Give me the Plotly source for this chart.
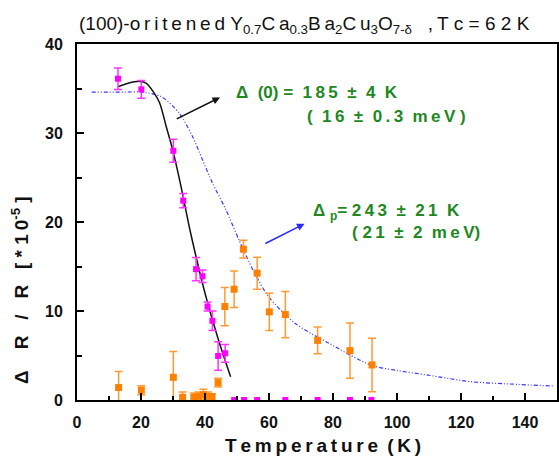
import plotly.graph_objects as go

# ---- data ----
mag_T = [12.8, 20.1, 30.1, 33.2, 37.2, 39.2, 40.8, 42.3, 44.1, 46.3]
mag_V = [36.1, 34.9, 28.0, 22.4, 14.7, 13.9, 10.5, 8.9, 4.95, 5.25]
mag_E = [1.2, 1.0, 1.3, 0.8, 1.3, 0.7, 0.5, 1.1, 1.6, 1.0]

mag0_T = [49.1, 52.2, 56.3, 65.1, 75.2, 85.3, 92.0]
mag0_V = [0, 0, 0, 0, 0, 0, 0]

or_T = [13.0, 20.1, 30.1, 33.0, 36.5, 38.0, 39.5, 41.0, 42.2, 44.1, 46.2, 49.1,
        52.0, 56.3, 60.1, 65.1, 75.2, 85.3, 92.2]
or_V = [1.4, 1.1, 2.55, 0.3, 0.3, 0.4, 0.6, 0.4, 0.3, 1.95, 10.5, 12.45,
        16.95, 14.25, 9.9, 9.6, 6.7, 5.55, 3.94]
or_E = [1.8, 0.5, 2.9, 0.6, 0.5, 0.5, 0.6, 0.5, 0.4, 0.5, 2.15, 2.05,
        1.0, 1.8, 2.1, 2.6, 1.5, 3.1, 3.0]

fit1_T = [12.8, 16.0, 19.6, 21.6, 23.7, 25.8, 27.9, 29.9, 32.5, 35.0, 37.2, 40.3, 43.9, 48.0]
fit1_V = [35.2, 35.6, 35.8, 35.6, 34.7, 33.4, 30.7, 28.1, 24.0, 19.6, 16.1, 11.6, 7.1, 2.6]

fit2_T = [4.6, 10.0, 15.0, 20.0, 26.3, 32.0, 36.1, 39.2, 42.3, 46.5, 50.6, 55.3,
          59.9, 68.2, 78.6, 92.0, 100.3, 109.6, 123.0, 135.0, 149.0]
fit2_V = [34.6, 34.6, 34.6, 34.6, 34.1, 32.2, 29.6, 27.0, 24.4, 21.4, 18.0, 14.4,
          11.6, 8.6, 6.4, 3.9, 3.3, 2.8, 2.06, 1.8, 1.57]

x_range = [0, 150]
y_range = [0, 40]

green = "#21881f"
FONT = "Liberation Sans, Arial, sans-serif"
TS = "\u2009"   # thin space used for letter spacing
NB = "\u00a0"   # non-collapsing space


def spaced(s, sep=TS):
    return sep.join(list(s))


fig = go.Figure()

fig.add_trace(go.Scatter(x=fit2_T, y=fit2_V, mode="lines",
                         line=dict(color="#3a3aff", width=1.2, dash="4px,2px,1px,2px,1px,2px", shape="spline", smoothing=0.8),
                         hoverinfo="skip"))
fig.add_trace(go.Scatter(x=fit1_T, y=fit1_V, mode="lines",
                         line=dict(color="#111111", width=1.5, shape="spline", smoothing=0.8),
                         hoverinfo="skip"))
fig.add_trace(go.Scatter(x=or_T, y=or_V, mode="markers",
                         marker=dict(symbol="square", size=7, color="#ff8000"),
                         error_y=dict(type="data", array=or_E, visible=True, color="#ff9a33", thickness=1.5, width=4)))
fig.add_trace(go.Scatter(x=mag_T, y=mag_V, mode="markers",
                         marker=dict(symbol="square", size=6, color="#ff00ff"),
                         error_y=dict(type="data", array=mag_E, visible=True, color="#ff33ff", thickness=1.5, width=4)))
fig.add_trace(go.Scatter(x=mag0_T, y=mag0_V, mode="markers",
                         marker=dict(symbol="square", size=6, color="#ff00ff")))

axis_common = dict(showline=True, linecolor="black", linewidth=2, mirror=True,
                   ticks="inside", tickcolor="black", tickwidth=2, ticklen=7,
                   showgrid=False, zeroline=False,
                   tickfont=dict(family=FONT, size=16, color="#111", weight="bold"))

fig.update_layout(
    width=559, height=459,
    margin=dict(l=77, r=0, t=44, b=59),
    paper_bgcolor="white", plot_bgcolor="white",
    showlegend=False,
    xaxis=dict(range=x_range, dtick=20, tick0=0,
               minor=dict(ticks="inside", dtick=10, ticklen=4, tickwidth=2, tickcolor="black"),
               ticklabelstandoff=7, **axis_common),
    yaxis=dict(range=y_range, dtick=10, tick0=0,
               minor=dict(ticks="inside", dtick=5, ticklen=5, tickwidth=2, tickcolor="black"),
               ticklabelstandoff=9, **axis_common),
)

title_text = ("(100)-" + spaced("oritened") + NB + "Y<sub>0.7</sub>" + spaced("Ca") + "<sub>0.3</sub>"
              + spaced("Ba") + "<sub>2</sub>" + spaced("Cu") + "<sub>3</sub>O<sub>7-δ</sub>" + NB * 3 + ","
              + TS + spaced("Tc=62K", NB))

anns = []
# title
anns.append(dict(xref="paper", yref="paper", x=0.0, y=1.0, yshift=19, xanchor="left", yanchor="middle",
                 text=title_text, showarrow=False, font=dict(family=FONT, size=19, color="#111")))
# x title
anns.append(dict(xref="paper", yref="paper", x=(324 - 77) / 482, y=0, yshift=-45, xanchor="center", yanchor="middle",
                 text=spaced("Temperature") + TS + " (" + TS + "K" + TS + ")",
                 showarrow=False, font=dict(family=FONT, size=19, color="#111", weight="bold")))
# y title
ytitle = ("Δ" + NB * 4 + "R" + NB * 3 + "/" + NB * 3 + "R" + NB * 3 + "[" + NB + "*" + NB
          + "1" + TS + "0<sup>-5</sup>" + NB + "]")
anns.append(dict(xref="paper", yref="paper", x=0, xshift=-57, y=(400 - 290) / 356, xanchor="center", yanchor="middle",
                 textangle=-90, text=ytitle,
                 showarrow=False, font=dict(family=FONT, size=19, color="#111", weight="bold")))
# green labels
gfont = dict(family=FONT, size=17, color=green, weight="bold")
line1 = "Δ" + NB * 2 + "(0)" + NB + "=" + NB * 2 + spaced("185") + NB * 2 + "±" + NB * 2 + "4" + NB * 2 + "K"
line2 = "(" + NB * 2 + spaced("16") + NB * 2 + "±" + NB * 2 + spaced("0.3") + NB * 2 + spaced("meV") + NB + ")"
line3 = "Δ" + NB + "<sub>p</sub>=" + NB + spaced("243") + NB * 2 + "±" + NB * 2 + spaced("21") + NB * 2 + "K"
line4 = "(" + NB + spaced("21") + NB * 2 + "±" + NB * 2 + "2" + NB * 2 + spaced("meV") + ")"
anns.append(dict(x=49.1, y=34.5, xanchor="left", yanchor="middle", showarrow=False, text=line1, font=gfont))
anns.append(dict(x=71.4, y=31.8, xanchor="left", yanchor="middle", showarrow=False, text=line2, font=gfont))
anns.append(dict(x=73.0, y=21.1, xanchor="left", yanchor="middle", showarrow=False, text=line3, font=gfont))
anns.append(dict(x=85.4, y=18.8, xanchor="left", yanchor="middle", showarrow=False, text=line4, font=gfont))
# arrows
anns.append(dict(x=44.7, y=34.0, ax=30.7, ay=31.5, axref="x", ayref="y", text="", showarrow=True,
                 arrowhead=2, arrowsize=1, arrowwidth=1.5, arrowcolor="#111"))
anns.append(dict(x=71.1, y=19.8, ax=58.4, ay=17.5, axref="x", ayref="y", text="", showarrow=True,
                 arrowhead=2, arrowsize=1, arrowwidth=1.5, arrowcolor="#2a2aff"))

fig.update_layout(annotations=anns)
fig.write_html("out.html")
